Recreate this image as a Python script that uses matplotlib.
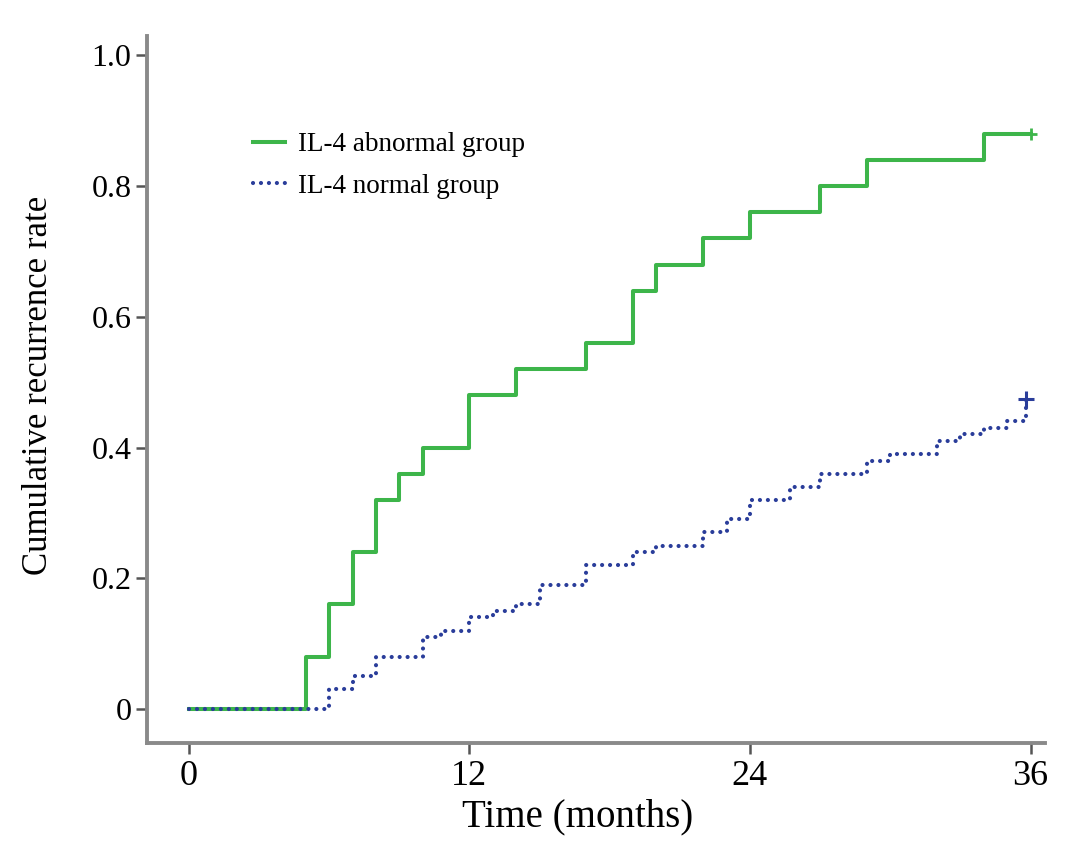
import matplotlib
matplotlib.use("Agg")
import matplotlib.pyplot as plt

# step times (months) and cumulative recurrence after each step
abn_times = [0, 5, 6, 7, 8, 9, 10, 12, 14, 17, 19, 20, 22, 24, 27, 29, 34, 36]
abn_rate = [0, 0.08, 0.16, 0.24, 0.32, 0.36, 0.40, 0.48, 0.52, 0.56, 0.64, 0.68,
            0.72, 0.76, 0.80, 0.84, 0.88, 0.88]

norm_times = [0, 6, 7, 8, 10, 10.8, 12, 13, 14, 15, 17, 19, 20, 22, 23, 24, 25.7,
              27, 29, 30, 32, 33, 34, 35, 35.8]
norm_rate = [0, 0.03, 0.05, 0.08, 0.11, 0.12, 0.14, 0.15, 0.16, 0.19, 0.22, 0.24,
             0.25, 0.27, 0.29, 0.32, 0.34, 0.36, 0.38, 0.39, 0.41, 0.42, 0.43, 0.44, 0.475]

xticks = [0, 12, 24, 36]
yticks = [0, 0.2, 0.4, 0.6, 0.8, 1.0]
yticklabels = ["0", "0.2", "0.4", "0.6", "0.8", "1.0"]

green = "#3db54a"
blue = "#2a3d9a"
grey = "#8a8a8a"

plt.rcParams["font.family"] = ["Liberation Serif", "DejaVu Serif"]

fig = plt.figure(figsize=(10.87, 8.52), dpi=100)
ax = fig.add_axes([0.135, 0.128, 0.826, 0.83])

ax.step(abn_times, abn_rate, where="post", color=green, linewidth=2.9,
        label="IL-4 abnormal group")
ax.step(norm_times, norm_rate, where="post", color=blue, linewidth=3.0,
        linestyle=(0, (0.01, 1.9)), dash_capstyle="round", label="IL-4 normal group")

# censor marks
ax.plot([abn_times[-1]], [abn_rate[-1]], marker="+", color=green, markersize=9, mew=2)
ax.plot([norm_times[-1]], [norm_rate[-1]], marker="+", color=blue, markersize=11, mew=2.2)

ax.set_xlim(-1.8, 36.6)
ax.set_ylim(-0.052, 1.03)
ax.set_xticks(xticks)
ax.set_yticks(yticks)
ax.set_yticklabels(yticklabels)

for s in ["top", "right"]:
    ax.spines[s].set_visible(False)
for s in ["left", "bottom"]:
    ax.spines[s].set_color(grey)
    ax.spines[s].set_linewidth(2.8)

ax.tick_params(axis="both", direction="out", length=8, width=1.8, color="#555555")
ax.tick_params(axis="x", labelsize=26, pad=4)
ax.tick_params(axis="y", labelsize=23, pad=3)

ax.set_xlabel("Time (months)", fontsize=28)
ax.xaxis.set_label_coords(0.48, -0.078)
ax.set_ylabel("Cumulative recurrence rate", fontsize=25)
ax.yaxis.set_label_coords(-0.102, 0.505)

ax.legend(loc="upper left", bbox_to_anchor=(0.091, 0.898),
          frameon=False, fontsize=19.5, handlelength=1.2, handletextpad=0.45,
          labelspacing=0.6)

fig.savefig("out.png", dpi=100)
